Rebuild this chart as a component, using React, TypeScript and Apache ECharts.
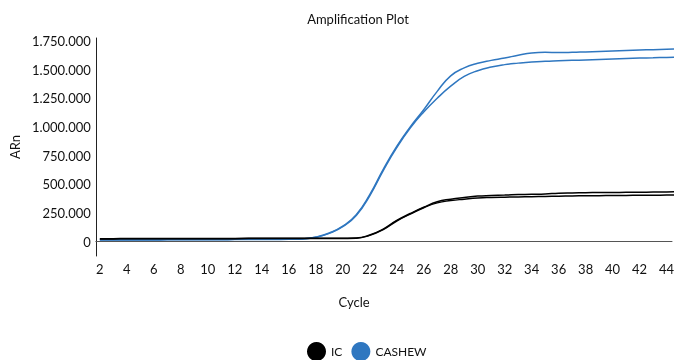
import React, { useEffect, useRef } from "react";
import * as echarts from "echarts";

// Cycle numbers for each reading
const cycles = [
  2, 3, 4, 5, 6, 7, 8, 9, 10, 11, 12, 13, 14, 15, 16, 17, 18, 19, 20, 21, 22, 23,
  24, 25, 26, 27, 28, 29, 30, 31, 32, 33, 34, 35, 36, 37, 38, 39, 40, 41, 42, 43,
  44, 45,
];

// CASHEW target, two wells
const cashewWellA = [
  16000, 16000, 17000, 17000, 17000, 18000, 18000, 18000, 19000, 19000, 20000,
  20000, 20000, 20000, 21000, 24000, 40000, 75000, 135000, 235000, 410000,
  630000, 830000, 1000000, 1150000, 1310000, 1445000, 1515000, 1555000, 1580000,
  1600000, 1625000, 1645000, 1650000, 1648000, 1650000, 1654000, 1658000,
  1662000, 1666000, 1670000, 1673000, 1676000, 1680000,
];
const cashewWellB = [
  14000, 14000, 15000, 15000, 15000, 16000, 16000, 16000, 17000, 17000, 18000,
  18000, 18000, 19000, 20000, 23000, 38000, 72000, 130000, 228000, 400000,
  620000, 820000, 990000, 1130000, 1250000, 1355000, 1440000, 1490000, 1522000,
  1543000, 1556000, 1566000, 1572000, 1576000, 1580000, 1584000, 1588000,
  1592000, 1596000, 1600000, 1603000, 1606000, 1609000,
];

// Internal control, two wells
const icWellA = [
  26000, 26000, 27000, 27000, 27000, 27000, 28000, 28000, 28000, 28000, 28000,
  29000, 29000, 29000, 29000, 29000, 29000, 29000, 30000, 32000, 58000, 110000,
  185000, 245000, 300000, 348000, 370000, 385000, 397000, 402000, 406000,
  410000, 413000, 416000, 422000, 425000, 427000, 428000, 429000, 430000,
  431000, 432000, 433000, 435000,
];
const icWellB = [
  24000, 24000, 25000, 25000, 25000, 25000, 26000, 26000, 26000, 26000, 26000,
  27000, 27000, 27000, 27000, 27000, 27000, 27000, 28000, 30000, 55000, 105000,
  180000, 240000, 296000, 338000, 358000, 370000, 380000, 385000, 388000,
  390000, 392000, 394000, 396000, 398000, 400000, 401000, 402000, 403000,
  404000, 405000, 406000, 407000,
];

const legendNames = ["IC", "CASHEW"];
const seriesColors: Record<string, string> = { IC: "#000000", CASHEW: "#2f77c0" };

const FONT = "Lato";

const pairs = (vals: number[]) => cycles.map((c, i) => [c, vals[i]]);

const dotThousands = (v: number) =>
  String(v).replace(/\B(?=(\d{3})+(?!\d))/g, ".");

export default function App() {
  const ref = useRef<HTMLDivElement>(null);

  useEffect(() => {
    if (!ref.current) return;
    const chart = echarts.init(ref.current, undefined, { renderer: "svg" });

    const line = (name: string, vals: number[]) => ({
      name,
      type: "line",
      data: pairs(vals),
      smooth: true,
      showSymbol: false,
      clip: false,
      lineStyle: { width: 1.5, color: seriesColors[name] },
      itemStyle: { color: seriesColors[name] },
    });

    chart.setOption({
      animation: false,
      textStyle: { fontFamily: FONT },
      grid: { left: 90, right: 11, top: 38, bottom: 104 },
      graphic: [
        {
          type: "text",
          x: 358,
          y: 19,
          style: {
            text: "Amplification Plot",
            align: "center",
            verticalAlign: "middle",
            fontFamily: FONT,
            fontSize: 13,
            fill: "#111",
          },
        },
        {
          type: "text",
          x: 354,
          y: 302,
          style: {
            text: "Cycle",
            align: "center",
            verticalAlign: "middle",
            fontFamily: FONT,
            fontSize: 13,
            fill: "#111",
          },
        },
      ],
      legend: {
        data: legendNames,
        icon: "circle",
        itemWidth: 19,
        itemHeight: 19,
        itemGap: 9,
        left: 307,
        top: 342,
        padding: 0,
        textStyle: { fontFamily: FONT, fontSize: 12, color: "#111" },
      },
      xAxis: {
        type: "value",
        min: 1.7,
        max: 44.4,
        minInterval: 2,
        maxInterval: 2,
        splitNumber: 21,
        axisLine: { show: true, lineStyle: { color: "#555", width: 1 } },
        axisTick: { show: false },
        splitLine: { show: false },
        axisLabel: {
          margin: 6,
          fontFamily: FONT,
          fontSize: 13,
          color: "#111",
          showMinLabel: false,
          showMaxLabel: false,
          formatter: (v: number) =>
            Number.isInteger(v) && v % 2 === 0 ? String(v) : "",
        },
      },
      yAxis: {
        type: "value",
        min: -125000,
        max: 1775000,
        interval: 125000,
        name: "ARn",
        nameLocation: "middle",
        nameGap: 66,
        nameRotate: 90,
        nameTextStyle: { fontFamily: FONT, fontSize: 13, color: "#111" },
        axisLine: { show: true, lineStyle: { color: "#222", width: 1 } },
        axisTick: { show: false },
        splitLine: { show: false },
        axisLabel: {
          margin: 5,
          fontFamily: FONT,
          fontSize: 13,
          color: "#111",
          formatter: (v: number) =>
            v >= 0 && v % 250000 === 0 ? dotThousands(v) : "",
        },
      },
      series: [
        line("CASHEW", cashewWellA),
        line("CASHEW", cashewWellB),
        line("IC", icWellA),
        line("IC", icWellB),
      ],
    });

    return () => chart.dispose();
  }, []);

  return (
    <div
      ref={ref}
      style={{ position: "fixed", left: 0, top: 0, width: 683, height: 360 }}
    />
  );
}
